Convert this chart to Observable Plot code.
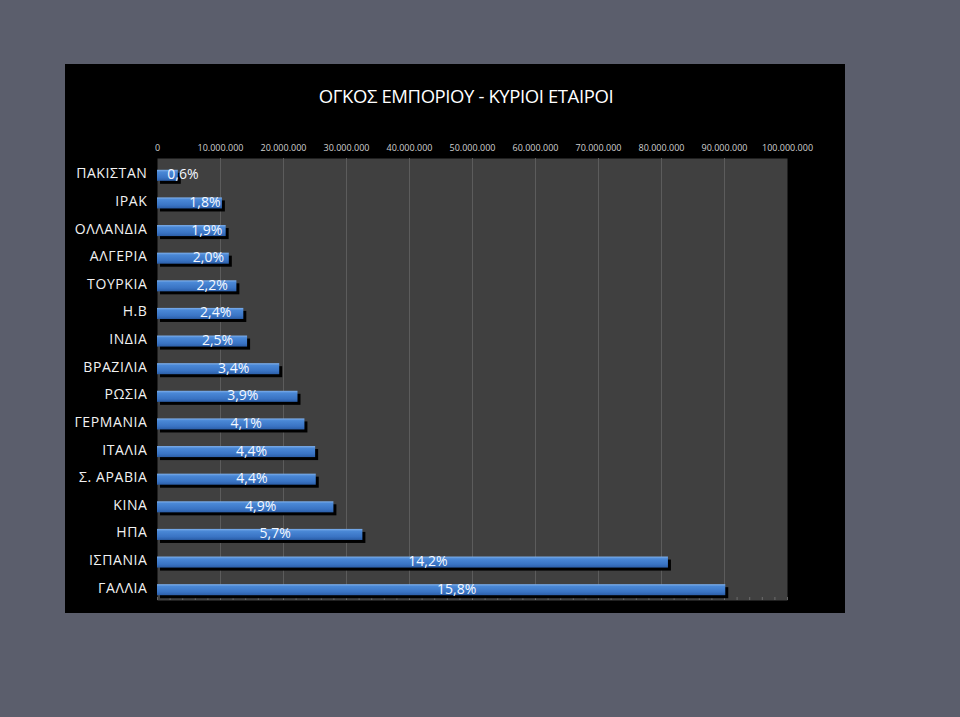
<!DOCTYPE html>
<html>
<head>
<meta charset="utf-8">
<script src="https://cdn.jsdelivr.net/npm/d3@7"></script>
<script src="https://cdn.jsdelivr.net/npm/@observablehq/plot@0.6"></script>
<style>
  html, body { margin: 0; padding: 0; }
  body { width: 960px; height: 717px; background: #5b5e6c; position: relative; overflow: hidden; font-family: "Open Sans", "Noto Sans", sans-serif; }
  #panel { position: absolute; left: 65px; top: 64px; width: 780px; height: 549px; background: #000; }
  #title { height: 66px; line-height: 64px; text-align: center; color: #fff; font-size: 18.5px; padding-left: 22px; letter-spacing: -0.4px; }
  #chart svg { display: block; }
</style>
</head>
<body>
<div id="panel">
  <div id="title">ΟΓΚΟΣ ΕΜΠΟΡΙΟΥ - ΚΥΡΙΟΙ ΕΤΑΙΡΟΙ</div>
  <div id="chart"></div>
</div>
<script>
const countries = ["ΠΑΚΙΣΤΑΝ","ΙΡΑΚ","ΟΛΛΑΝΔΙΑ","ΑΛΓΕΡΙΑ","ΤΟΥΡΚΙΑ","Η.Β","ΙΝΔΙΑ","ΒΡΑΖΙΛΙΑ","ΡΩΣΙΑ","ΓΕΡΜΑΝΙΑ","ΙΤΑΛΙΑ","Σ. ΑΡΑΒΙΑ","ΚΙΝΑ","ΗΠΑ","ΙΣΠΑΝΙΑ","ΓΑΛΛΙΑ"];
const volumes = [3300000, 10300000, 10900000, 11400000, 12600000, 13700000, 14300000, 19400000, 22300000, 23400000, 25100000, 25200000, 28000000, 32600000, 81100000, 90200000];
const shares = ["0,6%","1,8%","1,9%","2,0%","2,2%","2,4%","2,5%","3,4%","3,9%","4,1%","4,4%","4,4%","4,9%","5,7%","14,2%","15,8%"];
const xTicks = [0,10000000,20000000,30000000,40000000,50000000,60000000,70000000,80000000,90000000,100000000];

const data = countries.map((c, i) => ({country: c, value: volumes[i], share: shares[i]}));
const fmt = d => d3.format(",")(d).replace(/,/g, ".");

const chart = Plot.plot({
  width: 780,
  height: 483,
  marginLeft: 92,
  marginRight: 58,
  marginTop: 28,
  marginBottom: 13,
  style: {background: "#000", color: "#fff", fontFamily: "Open Sans, Noto Sans, sans-serif"},
  x: {domain: [0, 100000000], axis: null},
  y: {domain: countries, axis: null, paddingInner: 0.6, paddingOuter: 0.3, round: false},
  marks: [
    Plot.frame({fill: "#404040", stroke: null}),
    Plot.gridX(xTicks.slice(1, -1), {stroke: "#5c5c5c", strokeOpacity: 1, strokeWidth: 1}),
    Plot.axisX(d3.range(0, 100000001, 2000000), {anchor: "bottom", tickSize: -3, tickFormat: () => "", stroke: "#777", strokeOpacity: 0.8, label: null}),
    Plot.axisX(xTicks, {anchor: "top", tickSize: 0, tickPadding: 8, tickFormat: fmt, fontSize: 9, fill: "#d0d0d0", label: null}),
    Plot.axisY({anchor: "left", tickSize: 0, tickPadding: 10, fontSize: 14, fill: "#f2f2f2", label: null, dy: 1.5}),
    Plot.barX(data, {x: "value", y: "country", fill: "#000", dx: 3, dy: 6.5}),
    Plot.barX(data, {x: "value", y: "country", fill: "url(#barGrad)", dy: 3.5}),
    Plot.text(data, {x: d => d.value / 2, y: "country", text: "share", fill: "#f4f8ff", fontSize: 14, dx: 15, dy: 2.5})
  ]
});

const ns = "http://www.w3.org/2000/svg";
const defs = document.createElementNS(ns, "defs");
defs.innerHTML = `<linearGradient id="barGrad" x1="0" y1="0" x2="0" y2="1">
  <stop offset="0" stop-color="#7fb0ec"/>
  <stop offset="0.2" stop-color="#4a88d6"/>
  <stop offset="0.7" stop-color="#3a74c4"/>
  <stop offset="1" stop-color="#2b5ea8"/>
</linearGradient>`;
chart.insertBefore(defs, chart.firstChild);
chart.querySelectorAll("[aria-label='y-axis tick label'] text, [aria-label='y-axis tick label']").forEach(el => el.style.letterSpacing = "0.6px");
document.getElementById("chart").appendChild(chart);
</script>
</body>
</html>
